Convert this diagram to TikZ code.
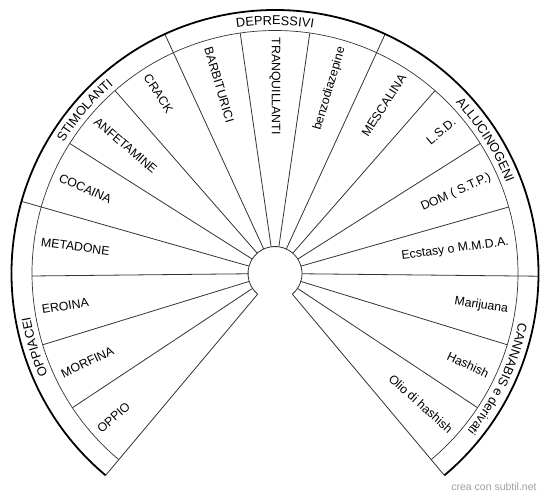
\documentclass[tikz,border=0pt]{standalone}
\usepackage{fontspec}
\setmainfont{Liberation Sans}
\usetikzlibrary{decorations.text}
\newcommand{\labfont}{\fontsize{12.3}{14}\selectfont}
\newcommand{\catfont}{\fontsize{12.8}{14}\selectfont}

\begin{document}
\begin{tikzpicture}[x=1pt,y=1pt]
  \def\Rout{263.5}
  \def\Rin{243}
  \def\Rhub{27}
  \def\Rtxt{236}
  \def\da{16.470588}
  \useasboundingbox (-275,-224.5) rectangle (275,273.5);
  % rays between the sectors
  \foreach \k in {0,...,17}{
    \pgfmathsetmacro{\a}{230-\k*\da}
    \draw[black!80, line width=0.8pt] (\a:\Rhub) -- (\a:\Rin);
  }
  % dividers of the groups, through the band
  \foreach \k in {0,4,7,10,14,17}{
    \pgfmathsetmacro{\a}{230-\k*\da}
    \draw[black!80, line width=0.8pt] (\a:\Rin) -- (\a:\Rout);
  }
  % arcs
  \draw[black!80, line width=0.7pt] (230:\Rin) arc[start angle=230, end angle=-50, radius=\Rin];
  \draw[black, line width=1.8pt] (230:\Rout) arc[start angle=230, end angle=-50, radius=\Rout];
  \draw[black!80, line width=0.8pt] (230:\Rhub) arc[start angle=230, end angle=-50, radius=\Rhub];
  % sector labels
  \foreach \k/\txt in {0/OPPIO, 1/MORFINA, 2/EROINA, 3/METADONE, 4/COCAINA,
      5/ANFETAMINE, 6/CRACK, 7/BARBITURICI, 8/TRANQUILLANTI, 9/benzodiazepine,
      10/MESCALINA, 11/L.S.D., 12/DOM ( S.T.P.), 13/Ecstasy o M.M.D.A.,
      14/Marijuana, 15/Hashish, 16/Olio di hashish}{
    \pgfmathsetmacro{\a}{230-(\k+0.5)*\da}
    \ifdim\a pt>89pt
      \node[font=\labfont, inner sep=0pt, anchor=west, rotate=\a+180] (lbl-\k) at (\a:\Rtxt) {\txt};
    \else
      \node[font=\labfont, inner sep=0pt, anchor=east, rotate=\a] (lbl-\k) at (\a:\Rtxt) {\txt};
    \fi
  }
  % group names along the band
  \path[decorate, decoration={text along path, text align=center, text={|\catfont|OPPIACEI}}]
    (230:248.5) arc[start angle=230, end angle=164.1176, radius=248.5];
  \path[decorate, decoration={text along path, text align=center, text={|\catfont|STIMOLANTI}}]
    (164.1176:248.5) arc[start angle=164.1176, end angle=114.7059, radius=248.5];
  \path[decorate, decoration={text along path, text align=center, text={|\catfont|DEPRESSIVI}}]
    (114.7059:248.5) arc[start angle=114.7059, end angle=65.2941, radius=248.5];
  \path[decorate, decoration={text along path, text align=center, text={|\catfont|ALLUCINOGENI}}]
    (65.2941:248.5) arc[start angle=65.2941, end angle=-0.5882, radius=248.5];
  \path[decorate, decoration={text along path, text align=center, text={|\catfont|CANNABIS e derivati}}]
    (-0.5882:248.5) arc[start angle=-0.5882, end angle=-50, radius=248.5];
  % credit
  \node[gray!75, font=\fontsize{10.5}{12}\selectfont] (credit) at (219,-213) {crea con subtil.net};
\end{tikzpicture}
\end{document}
